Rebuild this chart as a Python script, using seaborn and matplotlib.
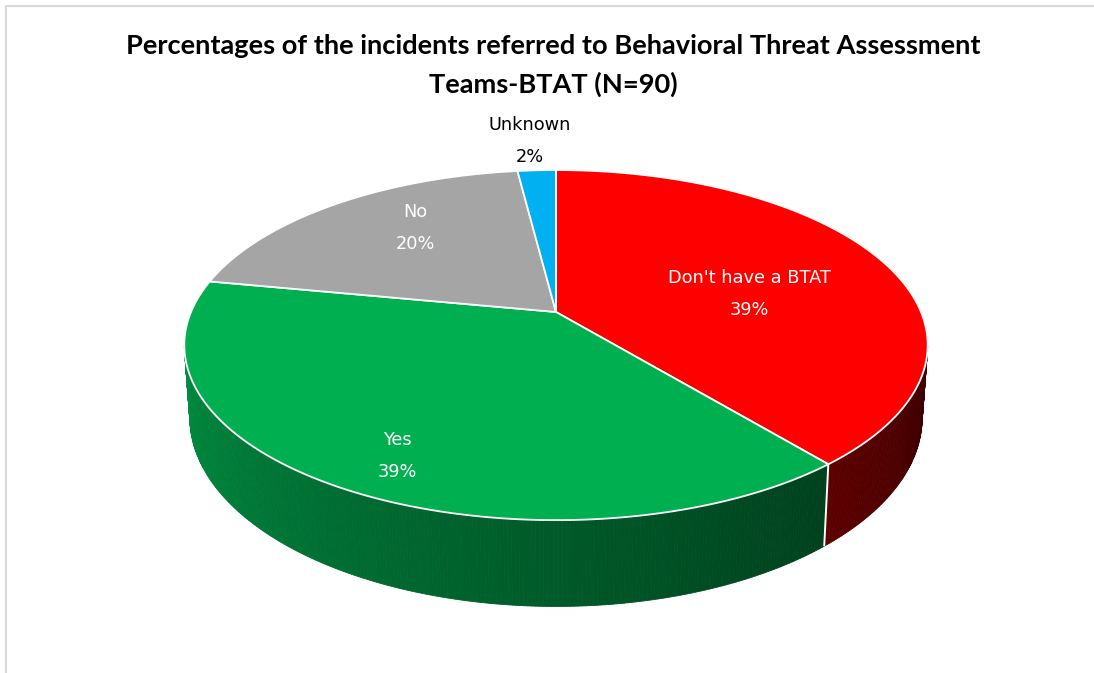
import numpy as np
import matplotlib
matplotlib.use("Agg")
import matplotlib.pyplot as plt
from matplotlib.patches import Polygon
import seaborn as sns

# Chart data
categories = ["Don't have a BTAT", "Yes", "No", "Unknown"]
percentages = [39, 39, 20, 2]
slice_colors = ["#FF0000", "#00B050", "#A5A5A5", "#00B0F0"]
title_lines = ["Percentages of the incidents referred to Behavioral Threat Assessment",
               "Teams-BTAT (N=90)"]

# Label layout (pixel centres of the name line and the value line)
label_pos = [(749, 278), (397, 440), (415, 212), (530, 125)]
label_gap = 32
label_colors = ["white", "white", "white", "black"]

sns.set_theme(style="white")
plt.rcParams["font.family"] = ["DejaVu Sans"]

W, H = 1094, 673
fig = plt.figure(figsize=(W / 100, H / 100), dpi=100)
ax = fig.add_axes([0, 0, 1, 1])
ax.set_xlim(0, W)
ax.set_ylim(H, 0)
ax.axis("off")

# Perspective projection of a tilted disc
CX, CY = 556, 312
A, B, K = 365, 168.8, 0.189
DEPTH = 70
BOTTOM_SCALE = 0.985


def top_pt(theta, r=1.0):
    u, v = r * np.sin(theta), r * np.cos(theta)
    f = 1 / (1 + K * v)
    return CX + A * u * f, CY - B * v * f


def bottom_pt(theta):
    u, v = np.sin(theta), np.cos(theta)
    f = 1 / (1 + K * v)
    return CX + A * u * f * BOTTOM_SCALE, CY - B * v * f + DEPTH * f


fracs = np.array(percentages, dtype=float) / np.sum(percentages)
edges = np.concatenate([[0], np.cumsum(fracs)]) * 2 * np.pi

# Visible side of the cylinder (front half, between the silhouette tangents)
t_right = np.arccos(-K)
t_left = 2 * np.pi - t_right


def shade(theta):
    # darker toward the right-hand side of the cylinder wall
    s = 0.8 - (t_left - theta) / (t_left - t_right) * 0.58
    return float(np.clip(s, 0.2, 1.0))


# side walls
for i, col in enumerate(slice_colors):
    a0, a1 = max(edges[i], t_right), min(edges[i + 1], t_left)
    if a1 <= a0:
        continue
    rgb = np.array(matplotlib.colors.to_rgb(col))
    ts = np.linspace(a0, a1, max(int(np.degrees(a1 - a0) * 2), 2))
    for t0, t1 in zip(ts[:-1], ts[1:]):
        tm = 0.5 * (t0 + t1)
        c = rgb * shade(tm)
        quad = [top_pt(t0), top_pt(t1), bottom_pt(t1), bottom_pt(t0)]
        ax.add_patch(Polygon(quad, closed=True, facecolor=c, edgecolor=c,
                             linewidth=0.6, zorder=2))

# white seams between slices on the wall
for e in edges[1:-1]:
    if t_right < e < t_left:
        p0, p1 = top_pt(e), bottom_pt(e)
        ax.plot([p0[0], p1[0]], [p0[1], p1[1]], color="white", lw=1.4,
                zorder=3, solid_capstyle="butt")

# top faces
for i, col in enumerate(slice_colors):
    ts = np.linspace(edges[i], edges[i + 1], max(int(np.degrees(edges[i + 1] - edges[i]) * 2), 3))
    pts = [(CX, CY)] + [top_pt(t) for t in ts]
    ax.add_patch(Polygon(pts, closed=True, facecolor=col, edgecolor="white",
                         linewidth=1.3, joinstyle="round", zorder=4))

# data labels
for name, pct, (x, y), tc in zip(categories, percentages, label_pos, label_colors):
    ax.text(x, y, name, ha="center", va="center", fontsize=12.8, color=tc,
            family=["DejaVu Sans"], zorder=6)
    ax.text(x, y + label_gap, f"{pct}%", ha="center", va="center", fontsize=12.8,
            color=tc, family=["DejaVu Sans"], zorder=6)

# title
title_font = ["Lato", "DejaVu Sans"]
ax.text(553, 46, title_lines[0], ha="center", va="center", fontsize=19.6,
        fontweight="bold", family=title_font, color="black")
ax.text(553, 84, title_lines[1], ha="center", va="center", fontsize=19.6,
        fontweight="bold", family=title_font, color="black")

# chart area border
ax.plot([6, 6, W + 5], [H + 5, 6, 6], color="#D9D9D9", lw=1.5, zorder=1)

fig.savefig("out.png", dpi=100, facecolor="white")
